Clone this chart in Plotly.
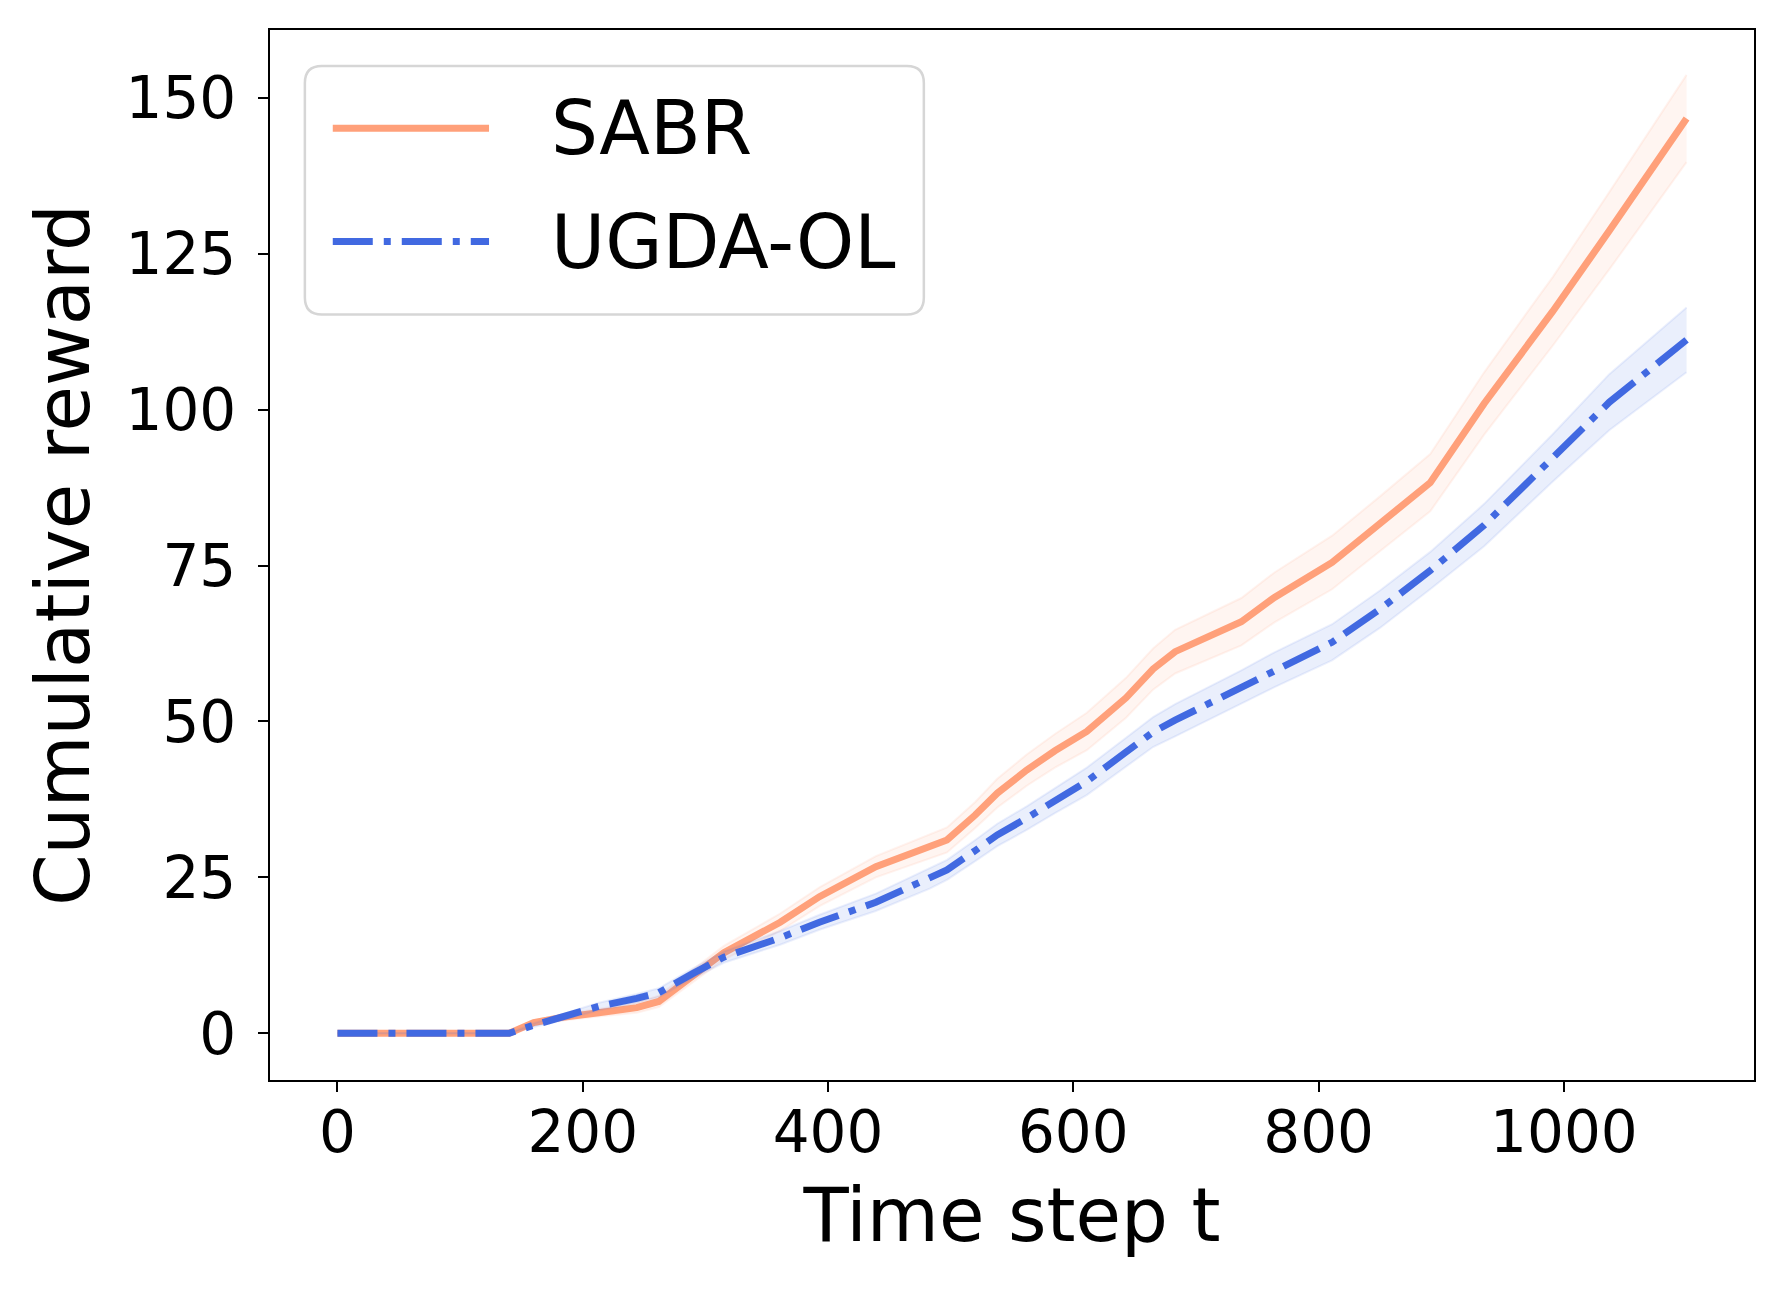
import plotly.graph_objects as go

# ---------------- data ----------------
t_steps = [0, 140, 160, 182, 213, 244, 262, 290, 315, 361, 393, 439, 483, 497, 520, 538,
           562, 585, 611, 643, 665, 683, 737, 764, 811, 850, 891, 935, 970, 991, 1037, 1100]

sabr_mean = [0, 0, 1.7, 2.5, 3.3, 4.1, 5.1, 9.2, 12.9, 17.8, 21.9, 26.7, 29.9, 31.0, 35.0, 38.5,
             42.2, 45.3, 48.4, 53.8, 58.4, 61.2, 66.0, 69.9, 75.5, 81.7, 88.3, 101.0, 110.3, 115.8, 128.7, 146.7]
sabr_std = [0, 0, 0.3, 0.5, 0.6, 0.8, 0.9, 1.0, 1.1, 1.4, 1.5, 1.7, 1.9, 2.0, 2.1, 2.3,
            2.5, 2.7, 3.0, 3.2, 3.3, 3.5, 3.8, 4.0, 4.3, 4.4, 4.6, 5.0, 5.3, 5.5, 6.2, 7.0]

ugda_mean = [0, 0, 1.3, 2.5, 4.3, 5.6, 6.5, 9.6, 12.2, 15.3, 17.8, 21.0, 24.8, 26.2, 29.3, 31.8,
             34.5, 37.3, 40.4, 45.1, 48.3, 50.2, 55.5, 58.3, 62.7, 68.0, 74.2, 81.5, 88.3, 92.3, 101.2, 111.2]
ugda_std = [0, 0, 0.3, 0.5, 0.6, 0.7, 0.7, 0.8, 0.9, 1.1, 1.2, 1.4, 1.6, 1.6, 1.7, 1.8,
            1.9, 2.0, 2.2, 2.3, 2.4, 2.6, 2.7, 2.8, 2.9, 3.0, 3.0, 3.4, 3.7, 3.8, 4.5, 5.2]

series_names = ["SABR", "UGDA-OL"]
x_ticks = [0, 200, 400, 600, 800, 1000]
y_ticks = [0, 25, 50, 75, 100, 125, 150]

# ---------------- styles ----------------
ORANGE = "rgb(255,160,122)"
BLUE = "rgb(65,105,225)"
FONT = "DejaVu Sans"
DASHDOT = "40px,11px,7px,11px"

fig = go.Figure()


def add_series(mean, std, color, fill_rgba, edge_rgba, dash, name):
    upper = [m + s for m, s in zip(mean, std)]
    lower = [m - s for m, s in zip(mean, std)]
    fig.add_trace(go.Scatter(x=t_steps, y=upper, mode="lines",
                             line=dict(color=edge_rgba, width=2),
                             showlegend=False, hoverinfo="skip"))
    fig.add_trace(go.Scatter(x=t_steps, y=lower, mode="lines",
                             line=dict(color=edge_rgba, width=2),
                             fill="tonexty", fillcolor=fill_rgba,
                             showlegend=False, hoverinfo="skip"))
    fig.add_trace(go.Scatter(x=t_steps, y=mean, mode="lines", name=name,
                             line=dict(color=color, width=7, dash=dash),
                             showlegend=False))


add_series(sabr_mean, sabr_std, ORANGE, "rgba(255,160,122,0.10)",
           "rgba(255,160,122,0.12)", "solid", series_names[0])
add_series(ugda_mean, ugda_std, BLUE, "rgba(65,105,225,0.11)",
           "rgba(65,105,225,0.10)", DASHDOT, series_names[1])

# ---------------- manual legend (matplotlib-like box) ----------------
lx0, lx1, ly0, ly1 = 0.0235, 0.4406, 0.7291, 0.9658
rx, ry = 0.0114, 0.0162
path = (f"M{lx0+rx},{ly1} L{lx1-rx},{ly1} Q{lx1},{ly1} {lx1},{ly1-ry} "
        f"L{lx1},{ly0+ry} Q{lx1},{ly0} {lx1-rx},{ly0} L{lx0+rx},{ly0} "
        f"Q{lx0},{ly0} {lx0},{ly0+ry} L{lx0},{ly1-ry} Q{lx0},{ly1} {lx0+rx},{ly1} Z")
fig.add_shape(type="path", path=path, xref="paper", yref="paper",
              line=dict(color="rgb(214,214,214)", width=2.5),
              fillcolor="rgba(255,255,255,0.8)", layer="above")

legend_rows = [(0.9064, ORANGE, "solid"), (0.7985, BLUE, DASHDOT)]
for (yy, col, dsh), nm in zip(legend_rows, series_names):
    fig.add_shape(type="line", xref="paper", yref="paper",
                  x0=0.0423, x1=0.1476, y0=yy, y1=yy,
                  line=dict(color=col, width=7, dash=dsh), layer="above")
    fig.add_annotation(x=0.1878, y=yy, xref="paper", yref="paper",
                       text=nm, showarrow=False, xanchor="left", yanchor="middle",
                       font=dict(family=FONT, size=74, color="black"))

axis_common = dict(
    showline=True, linecolor="black", linewidth=2.3, mirror=True,
    ticks="outside", ticklen=10, tickwidth=2.3, tickcolor="black",
    showgrid=False, zeroline=False,
    tickfont=dict(family=FONT, size=58, color="black"),
)

fig.update_layout(
    width=1770, height=1274,
    margin=dict(l=262, r=24, t=22, b=202),
    paper_bgcolor="white", plot_bgcolor="white",
    font=dict(family=FONT, color="black"),
    showlegend=False,
    xaxis=dict(range=[-55, 1155], tickvals=x_ticks, ticklabelstandoff=-10,
               title=dict(text="Time step t", font=dict(family=FONT, size=74, color="black"),
                          standoff=24),
               **axis_common),
    yaxis=dict(range=[-7.5, 160.9], tickvals=y_ticks, ticklabelstandoff=10,
               title=dict(text="Cumulative reward", font=dict(family=FONT, size=74, color="black"),
                          standoff=12),
               **axis_common),
)

fig.write_html("out.html")
